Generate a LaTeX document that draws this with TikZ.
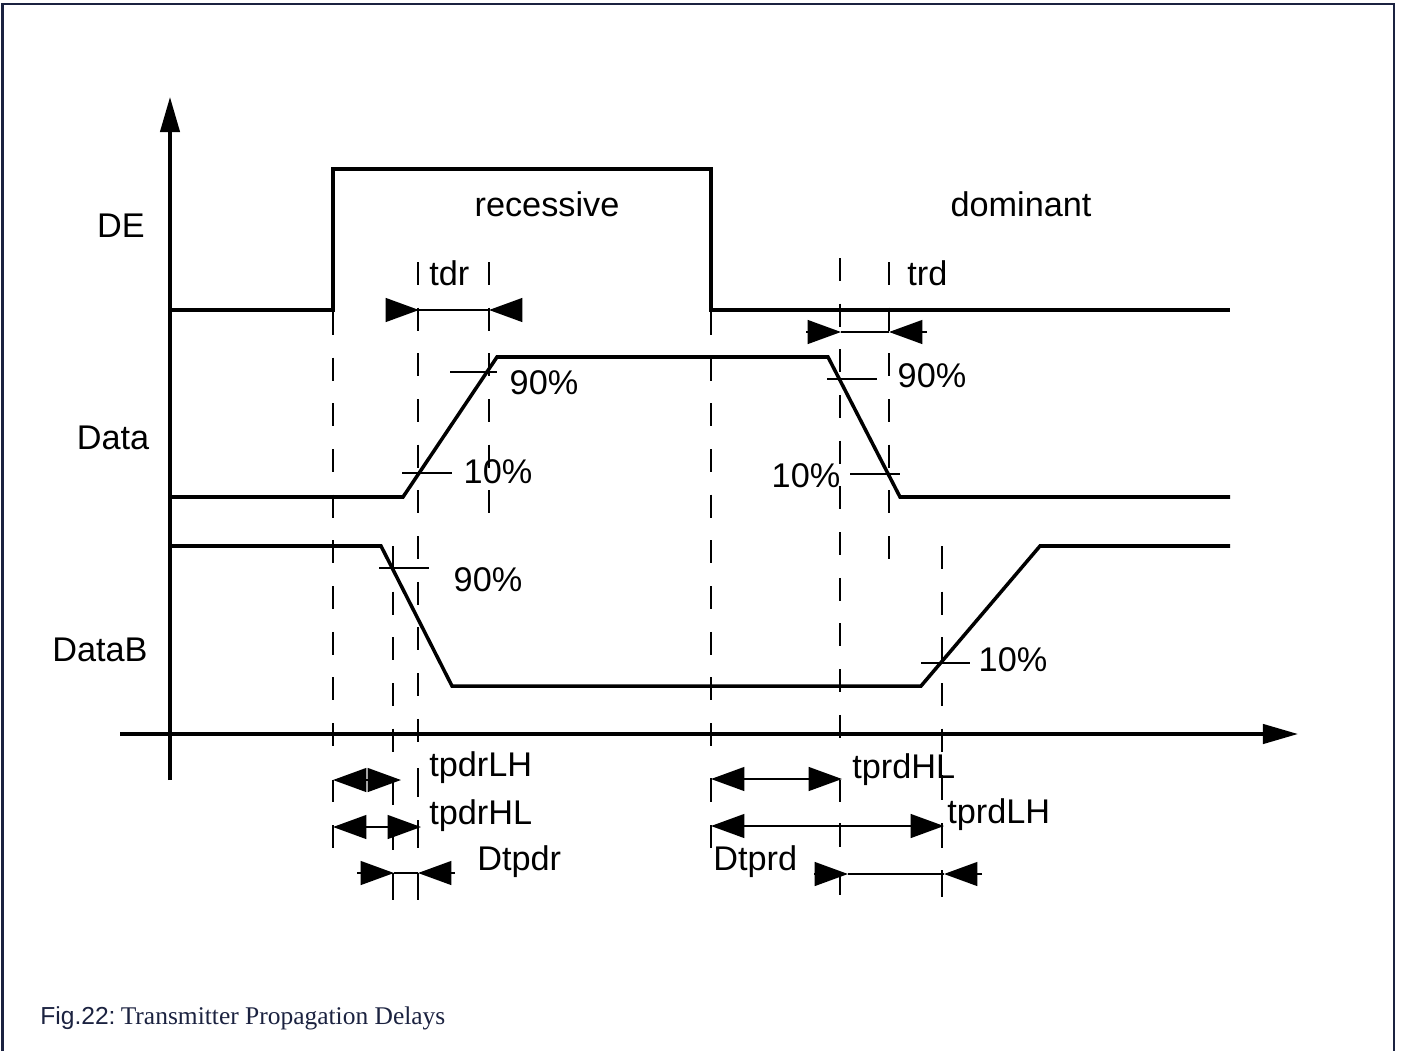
\documentclass[tikz,border=0pt]{standalone}
\usepackage{fontspec}
\setmainfont{Liberation Sans}
\newfontfamily\capserif{Liberation Serif}
\usetikzlibrary{arrows.meta}
\definecolor{framec}{HTML}{1B2240}
\tikzset{tri/.tip={Triangle[length=19pt,width=13.5pt]}}
\begin{document}
\begin{tikzpicture}[x=0.02cm,y=-0.02cm,
  sig/.style={line width=2pt,line join=miter},
  axis/.style={line width=2pt,-{Triangle[length=20pt,width=11pt]}},
  dashv/.style={line width=1.3pt,dash pattern=on 13pt off 13pt},
  tk/.style={line width=1.3pt},
  meas/.style={line width=1.3pt},
  lbl/.style={font=\fontsize{19.5}{22}\selectfont,inner sep=0pt}]
\useasboundingbox (0,0) rectangle (1402,1051);
% frame
\draw[framec,line width=1.2pt] (2.5,1051) -- (2.5,4) -- (1394,4) -- (1394,1051);
% axes
\coordinate (yA0) at (170,780); \coordinate (yA1) at (170,97);
\coordinate (xA0) at (120,734); \coordinate (xA1) at (1298,734);
\draw[axis] (yA0) -- (yA1);
\draw[axis] (xA0) -- (xA1);
% signals
\draw[sig] (170,310) -- (333,310) -- (333,169) -- (711,169) -- (711,310) -- (1230,310);
\draw[sig] (170,497) -- (403,497) -- (497,357) -- (828,357) -- (900,497) -- (1230,497);
\draw[sig] (170,546) -- (381,546) -- (452,686) -- (921,686) -- (1040,546) -- (1230,546);
% dashed verticals
\draw[dashv] (333,312) -- (333,760);
\draw[dashv] (393,546) -- (393,760);
\draw[dashv] (418,262) -- (418,760);
\draw[dashv] (489,262) -- (489,525);
\draw[dashv] (711,312) -- (711,760);
\draw[dashv] (840,258) -- (840,760);
\draw[dashv] (889,262) -- (889,572);
\draw[dashv] (942,546) -- (942,760);
% bottom ticks
\foreach \x/\a/\b in {333/780/802,333/825/848,393/778/805,393/824/850,393/873/900,
  418/768/797,418/820/848,418/873/900,
  711/778/802,711/825/848,840/780/802,840/823/847,840/875/895,
  942/775/800,942/823/848,942/870/897}
  \draw[tk] (\x,\a) -- (\x,\b);
% level ticks
\draw[tk] (450,372) -- (497,372);
\draw[tk] (402,473) -- (452,473);
\draw[tk] (827,379) -- (877,379);
\draw[tk] (850,474) -- (900,474);
\draw[tk] (379,568) -- (429,568);
\draw[tk] (921,663) -- (970,663);
% measurement arrows
\coordinate (tdrL) at (388,310); \coordinate (tdrA) at (419,310);
\coordinate (tdrB) at (489,310); \coordinate (tdrR) at (521,310);
\draw[meas,-tri] (tdrL) -- (tdrA);
\draw[meas] (tdrA) -- (tdrB);
\draw[meas,-tri] (tdrR) -- (tdrB);
\coordinate (trdL) at (806,332); \coordinate (trdA) at (841,332);
\coordinate (trdB) at (889,332); \coordinate (trdR) at (927,332);
\draw[meas,-tri] (trdL) -- (trdA);
\draw[meas] (trdA) -- (trdB);
\draw[meas,-tri] (trdR) -- (trdB);
\coordinate (lhA) at (333,780); \coordinate (lhB) at (401,780);
\draw[meas,tri-tri] (lhA) -- (lhB);
\coordinate (hlA) at (333,827); \coordinate (hlB) at (421,827);
\draw[meas,tri-tri] (hlA) -- (hlB);
\coordinate (dpL) at (357,873); \coordinate (dpA) at (394,873);
\coordinate (dpB) at (418,873); \coordinate (dpR) at (455,873);
\draw[meas,-tri] (dpL) -- (dpA);
\draw[meas] (dpA) -- (dpB);
\draw[meas,-tri] (dpR) -- (dpB);
\coordinate (rhA) at (711,779); \coordinate (rhB) at (842,779);
\draw[meas,tri-tri] (rhA) -- (rhB);
\coordinate (rlA) at (711,826); \coordinate (rlB) at (944,826);
\draw[meas,tri-tri] (rlA) -- (rlB);
\coordinate (drL) at (814,874); \coordinate (drA) at (848,874);
\coordinate (drB) at (944,874); \coordinate (drR) at (982,874);
\draw[meas,-tri] (drL) -- (drA);
\draw[meas] (drA) -- (drB);
\draw[meas,-tri] (drR) -- (drB);
% labels
\node[lbl] (tDE) at (121,226) {DE};
\node[lbl] (tData) at (113,438) {Data};
\node[lbl] (tDataB) at (100,650) {DataB};
\node[lbl] (tRec) at (547,204) {recessive};
\node[lbl] (tDom) at (1021,204) {dominant};
\node[lbl,anchor=west] (tTdr) at (429,273) {tdr};
\node[lbl,anchor=west] (tTrd) at (907,273) {trd};
\node[lbl] (p1) at (544,383) {90\%};
\node[lbl] (p2) at (498,472) {10\%};
\node[lbl] (p3) at (488,580) {90\%};
\node[lbl] (p4) at (932,376) {90\%};
\node[lbl] (p5) at (806,476) {10\%};
\node[lbl] (p6) at (1013,660) {10\%};
\node[lbl,anchor=west] (m1) at (429,768) {tpdrLH};
\node[lbl,anchor=west] (m2) at (429,816) {tpdrHL};
\node[lbl,anchor=west] (m3) at (477,862) {Dtpdr};
\node[lbl,anchor=west] (m4) at (852,770) {tprdHL};
\node[lbl,anchor=west] (m5) at (947,815) {tprdLH};
\node[lbl,anchor=west] (m6) at (713,862) {Dtprd};
% caption
\node[anchor=base west,inner sep=0pt,text=framec] (cap) at (40,1024)
  {\fontsize{14}{16}\selectfont Fig.22:\hspace{3pt}{\capserif\fontsize{14.5}{16}\selectfont Transmitter Propagation Delays}};
\end{tikzpicture}
\end{document}
